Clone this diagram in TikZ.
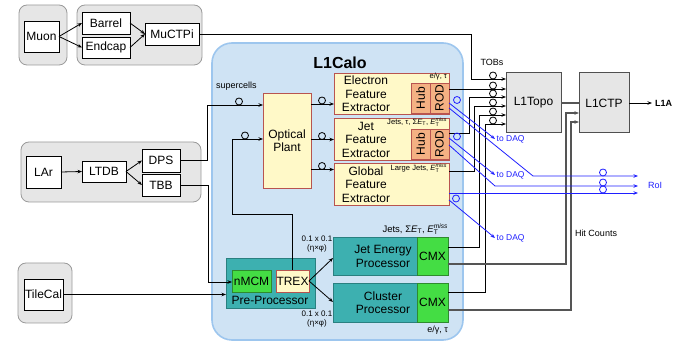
\documentclass[tikz,border=0pt]{standalone}
\usepackage{fontspec}
\usepackage{amsmath}
\usepackage{graphicx}
\setmainfont{Liberation Sans}
\usetikzlibrary{arrows.meta}

\definecolor{calofill}{HTML}{CFE3F4}
\definecolor{caloedge}{HTML}{9DC6EE}
\definecolor{grpfill}{HTML}{E6E6E6}
\definecolor{grpedge}{HTML}{9A9A9A}
\definecolor{fexfill}{HTML}{FFF9C8}
\definecolor{fexedge}{HTML}{B85450}
\definecolor{hubfill}{HTML}{F4B183}
\definecolor{tealfill}{HTML}{3DB0B0}
\definecolor{tealedge}{HTML}{2A8080}
\definecolor{cmxfill}{HTML}{44DD44}
\definecolor{cmxedge}{HTML}{2E8B2E}
\definecolor{daqblue}{HTML}{1F1FFF}
\definecolor{trigedge}{HTML}{505050}
\definecolor{trunkgray}{HTML}{555555}

\newcommand\fmain{\fontsize{12}{13.5}\selectfont}
\newcommand\fsmall{\fontsize{9}{10.5}\selectfont}
\newcommand\ftag{\fontsize{7.6}{8.5}\selectfont}
\newcommand\Et{\textit{E}$_{\text{T}}$}
\newcommand\Etm{\textit{E}$_{\text{T}}^{\text{\itshape miss}}$}

% box from its corner coordinates (x1,y1)-(x2,y2), y measured downwards
\newcommand\mkbox[7]{\node[#6, inner sep=0pt, outer sep=0pt,
  minimum width={#4-#2}, minimum height={#5-#3}]
  (#1) at ({(#2+#4)/2},{(#3+#5)/2}) {#7};}

\tikzset{
  grp/.style={draw=grpedge, fill=grpfill, rounded corners=8pt, line width=0.8pt},
  calo/.style={draw=caloedge, fill=calofill, rounded corners=20pt, line width=1.6pt},
  plainbox/.style={draw=black, fill=white, line width=0.8pt, font=\fmain},
  fex/.style={draw=fexedge, fill=fexfill, line width=0.9pt, font=\fmain},
  hubbox/.style={draw=fexedge, fill=hubfill, line width=0.9pt, font=\fmain},
  tealbox/.style={draw=tealedge, fill=tealfill, line width=0.9pt},
  cmxbox/.style={draw=cmxedge, fill=cmxfill, line width=0.9pt, font=\fmain},
  trig/.style={draw=trigedge, fill=grpfill, line width=1pt, font=\fontsize{12}{14}\selectfont},
  lbl/.style={inner sep=0pt, outer sep=0pt},
  wire/.style={draw=black, line width=0.8pt, -{Stealth[length=4.5pt,width=3.5pt]}},
  trunk/.style={draw=trunkgray, line width=1.3pt},
  bwire/.style={draw=daqblue, line width=0.8pt, -{Stealth[length=4.5pt,width=3.5pt]}},
  ring/.style={draw=black, line width=0.8pt},
  bring/.style={draw=daqblue, line width=0.8pt},
}

\begin{document}
\begin{tikzpicture}[x=1pt,y=-1pt]
\useasboundingbox (0,0) rectangle (673,344);

% detector groups and the L1Calo system
\mkbox{gmuA}{19}{5}{67}{65}{grp}{}
\mkbox{gmuB}{77}{5}{202}{65}{grp}{}
\mkbox{glar}{21}{142}{201}{202}{grp}{}
\mkbox{gtile}{18}{263}{72}{323}{grp}{}
\mkbox{l1calo}{212}{43}{463}{340}{calo}{}
\node[lbl, font=\fontsize{16}{18}\selectfont\bfseries] (calotitle) at (340,63) {L1Calo};

% front-end boxes
\mkbox{muon}{24}{21}{59}{52}{plainbox}{Muon}
\mkbox{barrel}{82}{12}{130}{34}{plainbox}{Barrel}
\mkbox{endcap}{82}{37}{130}{58}{plainbox}{Endcap}
\mkbox{muctpi}{145}{23}{199}{45}{plainbox}{MuCTPi}
\mkbox{lar}{26}{156}{61}{188}{plainbox}{LAr}
\mkbox{ltdb}{82}{161}{126}{182}{plainbox}{LTDB}
\mkbox{dps}{142}{149}{180}{172}{plainbox}{DPS}
\mkbox{tbb}{142}{174}{180}{196}{plainbox}{TBB}
\mkbox{tilecal}{24}{279}{63}{310}{plainbox}{TileCal}

% optical plant and feature extractors
\mkbox{optical}{263}{93}{311}{188}{fex, align=center}{Optical\\Plant}
\mkbox{efex}{334}{73}{449}{114}{fex}{}
\mkbox{jfex}{334}{118}{449}{160}{fex}{}
\mkbox{gfex}{334}{163}{449}{205}{fex}{}
\mkbox{ehub}{411}{83}{430}{113}{hubbox}{\rotatebox{90}{Hub}}
\mkbox{erod}{430}{83}{449}{113}{hubbox}{\rotatebox{90}{ROD}}
\mkbox{jhub}{411}{129}{430}{159}{hubbox}{\rotatebox{90}{Hub}}
\mkbox{jrod}{430}{129}{449}{159}{hubbox}{\rotatebox{90}{ROD}}
\node[lbl, align=center, font=\fmain] (efexname) at (366,94) {Electron\\Feature\\Extractor};
\node[lbl, align=center, font=\fmain] (jfexname) at (366,139.5) {Jet\\Feature\\Extractor};
\node[lbl, align=center, font=\fmain] (gfexname) at (366,184.5) {Global\\Feature\\Extractor};
\node[lbl, anchor=east, font=\ftag] (etag) at (447,77) {e/γ, τ};
\node[lbl, anchor=east, font=\ftag] (jtag) at (447,122) {Jets, τ, Σ\Et, \Etm};
\node[lbl, anchor=east, font=\ftag] (gtag) at (447,168) {Large Jets, \Etm};

% legacy processors
\mkbox{preproc}{226}{258}{315}{308}{tealbox}{}
\mkbox{nmcm}{232}{270}{271}{292}{cmxbox}{nMCM}
\mkbox{trex}{276}{270}{309}{292}{fex}{TREX}
\node[lbl, font=\fmain] (ppname) at (270,300) {Pre-Processor};
\mkbox{jep}{333}{237}{448}{275}{tealbox}{}
\mkbox{jcmx}{417}{237}{448}{275}{cmxbox}{CMX}
\node[lbl, align=center, font=\fmain] (jepname) at (383,256.5) {Jet Energy\\Processor};
\mkbox{cp}{333}{283}{448}{322}{tealbox}{}
\mkbox{ccmx}{417}{283}{448}{322}{cmxbox}{CMX}
\node[lbl, align=center, font=\fmain] (cpname) at (383,302.5) {Cluster\\Processor};
\node[lbl, align=center, font=\fontsize{8}{9}\selectfont] (granA) at (317,244.5) {0.1 x 0.1\\(η×φ)};
\node[lbl, align=center, font=\fontsize{8}{9}\selectfont] (granB) at (317,319.5) {0.1 x 0.1\\(η×φ)};
\node[lbl, anchor=east, font=\fontsize{9.5}{11}\selectfont] (jeptag) at (448,229) {Jets, Σ\Et, \Etm};
\node[lbl, anchor=east, font=\fontsize{9}{10}\selectfont] (cptag) at (448,330) {e/γ, τ};

% central trigger
\mkbox{l1topo}{506}{73}{561}{133}{trig}{L1Topo}
\mkbox{l1ctp}{579}{73}{629}{133}{trig}{L1CTP}
\node[lbl, anchor=west, font=\fontsize{9}{10}\selectfont\bfseries] (l1a) at (655,103) {L1A};

% labels
\node[lbl, anchor=west, font=\fsmall] (supercells) at (216,86) {supercells};
\node[lbl, font=\fsmall] (tobs) at (492,62) {TOBs};
\node[lbl, anchor=west, font=\fsmall] (hits) at (575,233) {Hit Counts};
\node[anchor=west, inner sep=1.5pt, text=daqblue, font=\fontsize{8.5}{10}\selectfont] (daqA) at (495,139) {to DAQ};
\node[anchor=west, inner sep=1.5pt, text=daqblue, font=\fontsize{8.5}{10}\selectfont] (daqB) at (495,175) {to DAQ};
\node[anchor=west, inner sep=1.5pt, text=daqblue, font=\fontsize{8.5}{10}\selectfont] (daqC) at (495,238) {to DAQ};
\node[lbl, anchor=west, text=daqblue, font=\fontsize{9}{10}\selectfont] (roi) at (648,185) {RoI};
\coordinate (roix) at (638,0);

% muon path
\draw[wire] (muon.east) -- (barrel.west);
\draw[wire] (muon.east) -- (endcap.west);
\draw[wire] (barrel.east) -- (muctpi.west);
\draw[wire] (endcap.east) -- (muctpi.west);
\draw[wire] (muctpi.east) -| (471,79) -- (l1topo.west |- 0,79);

% calorimeter paths
\draw[wire] (lar.east) -- (ltdb.west);
\draw[wire] (ltdb.east) -- (dps.west);
\draw[wire] (ltdb.east) -- (tbb.west);
\draw[wire] (dps.east) -| (207,105) -- (optical.west |- 0,105);
\draw[wire] (tbb.east) -| (208,282) -- (nmcm.west |- 0,282);
\draw[wire] (tilecal.east) -- (preproc.west |- tilecal.east);
\draw[wire] (trex.north) |- (232,214) -- (232,139) -- (optical.west |- 0,139);
\draw[wire] (optical.east |- 0,104) -- (efex.west |- 0,104);
\draw[wire] (optical.east |- 0,139.5) -- (jfex.west |- 0,139.5);
\draw[wire] (optical.east |- 0,169.5) -- (gfex.west |- 0,169.5);
\draw[wire] (trex.east) -- (jep.west |- 0,258);
\draw[wire] (trex.east) -- (cp.west |- 0,302);

% trigger objects into L1Topo
\draw[wire] (erod.east |- 0,89) -- (l1topo.west |- 0,89);
\draw[wire] (jrod.east |- 0,133) -| (469,97) -- (l1topo.west |- 0,97);
\draw[wire] (gfex.east |- 0,171) -| (474,106) -- (l1topo.west |- 0,106);
\draw[wire] (jcmx.east |- 0,247) -| (479,115) -- (l1topo.west |- 0,115);
\draw[wire] (ccmx.east |- 0,292) -| (485,124) -- (l1topo.west |- 0,124);

% hit counts into L1CTP
\draw[trunk, -{Stealth[length=4.5pt,width=3.5pt]}] (jcmx.east |- 0,264) -| (566,113) -- (l1ctp.west |- 0,113);
\draw[trunk, -{Stealth[length=4.5pt,width=3.5pt]}] (ccmx.east |- 0,310) -| (571,122) -- (l1ctp.west |- 0,122);
\draw[trunk] (l1topo.east) -- (l1ctp.west);
\draw[wire] (l1ctp.east) -- ([xshift=-3pt]l1a.west);

% readout to DAQ and RoI
\draw[bwire] (erod.east |- 0,103) -- (daqA.west);
\draw[bwire] (erod.east |- 0,108) -- (533,176) -- (roix |- 0,176);
\draw[bwire] (jrod.east |- 0,138) -- (daqB.west);
\draw[bwire] (jrod.east |- 0,145) -- (495,186) -- (roix |- 0,186);
\draw[bwire] (gfex.east |- 0,193) -- (roix |- 0,193);
\draw[bwire] (gfex.east |- 0,200) -- (daqC.west);

% fibre markers
\foreach \cx/\cy in {239/105, 245/139, 322/104, 322/139.5, 322/169.5,
                     493/79, 493/89, 493/97, 493/106, 493/115, 493/124}
  \draw[ring] (\cx,\cy-3.5) circle (3.5pt);
\foreach \cx/\cy in {457/103.5, 457/140, 456/202, 603/176, 603/186, 603/193}
  \draw[bring] (\cx,\cy-3.5) circle (3.5pt);

\end{tikzpicture}
\end{document}
